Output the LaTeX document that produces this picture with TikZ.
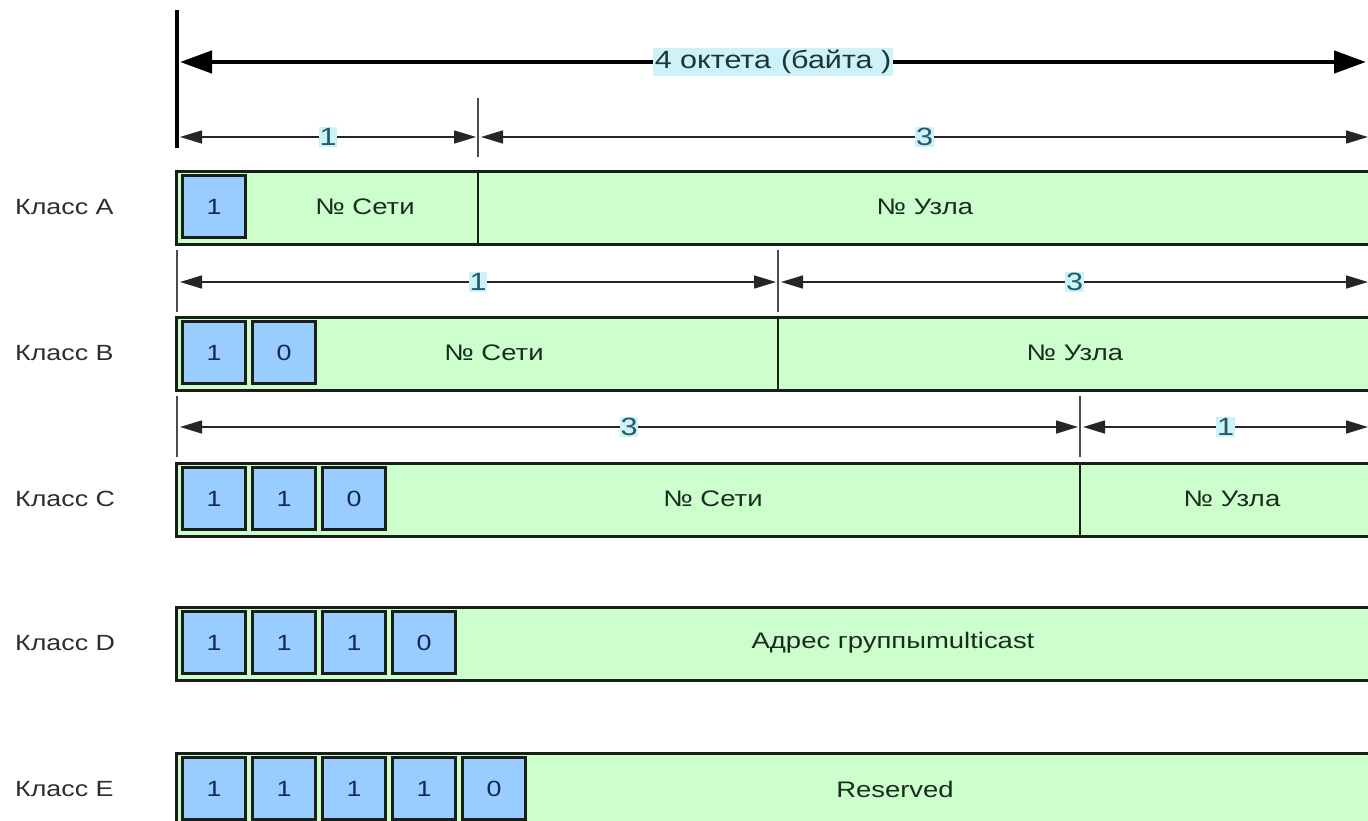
\documentclass[tikz,border=0pt]{standalone}
\usepackage{fontspec}
\setmainfont{Liberation Sans}[FakeStretch=1.22]
\usetikzlibrary{arrows.meta}
\definecolor{rowgreen}{RGB}{204,255,204}
\definecolor{bitblue}{RGB}{153,204,255}
\definecolor{lblbg}{RGB}{205,242,248}
\definecolor{numtxt}{RGB}{35,90,105}
\definecolor{bittxt}{RGB}{20,40,85}
\definecolor{fieldtxt}{RGB}{25,45,30}
\definecolor{clstxt}{RGB}{45,45,45}
\definecolor{edgecol}{RGB}{25,30,25}
\definecolor{bigtxt}{RGB}{25,55,55}
\begin{document}
\begin{tikzpicture}[x=1pt,y=-1pt,
 rowbox/.style={draw=edgecol, line width=3pt, fill=rowgreen, minimum width=1200pt, minimum height=73pt, anchor=north west, inner sep=0pt},
 bitbox/.style={draw=edgecol, line width=2.6pt, fill=bitblue, minimum width=63pt, minimum height=62pt, inner sep=0pt, text=bittxt, font=\fontsize{22pt}{26pt}\selectfont},
 field/.style={text=fieldtxt, font=\fontsize{22.5pt}{27pt}\selectfont, inner sep=0pt},
 cls/.style={text=clstxt, font=\fontsize{22pt}{26pt}\selectfont, anchor=west, inner sep=0pt},
 divider/.style={draw=edgecol, line width=2.2pt},
 tickline/.style={draw=black!70, line width=1.4pt},
 dimline/.style={line width=1.6pt, draw=black!85, {Triangle[length=22pt,width=13pt]}-{Triangle[length=22pt,width=13pt]}},
 dimlbl/.style={fill=lblbg, text=numtxt, inner sep=1pt, font=\fontsize{25pt}{28pt}\selectfont},
 bigline/.style={line width=4.5pt, draw=black, {Triangle[length=32pt,width=22pt]}-{Triangle[length=32pt,width=22pt]}},
 biglbl/.style={fill=lblbg, text=bigtxt, inner sep=2pt, font=\fontsize{25pt}{29pt}\selectfont},
]
\useasboundingbox (0,0) rectangle (1368,821);

% ---- rows
\node[rowbox] (rA) at (175,170) {};
\node[rowbox] (rB) at (175,316) {};
\node[rowbox] (rC) at (175,462) {};
\node[rowbox] (rD) at (175,606) {};
\node[rowbox] (rE) at (175,752) {};

% dividers
\draw[divider] (478,170) -- (478,243);
\draw[divider] (778,316) -- (778,389);
\draw[divider] (1080,462) -- (1080,535);

% ---- bit boxes
\node[bitbox] (a1) at (214,206.5) {1};
\node[bitbox] (b1) at (214,352.5) {1};
\node[bitbox] (b2) at (284,352.5) {0};
\node[bitbox] (c1) at (214,498.5) {1};
\node[bitbox] (c2) at (284,498.5) {1};
\node[bitbox] (c3) at (354,498.5) {0};
\node[bitbox] (d1) at (214,642.5) {1};
\node[bitbox] (d2) at (284,642.5) {1};
\node[bitbox] (d3) at (354,642.5) {1};
\node[bitbox] (d4) at (424,642.5) {0};
\node[bitbox] (e1) at (214,788.5) {1};
\node[bitbox] (e2) at (284,788.5) {1};
\node[bitbox] (e3) at (354,788.5) {1};
\node[bitbox] (e4) at (424,788.5) {1};
\node[bitbox] (e5) at (494,788.5) {0};

% ---- field texts
\node[field] (fa1) at (365,207) {№ Сети};
\node[field] (fa2) at (925,207) {№ Узла};
\node[field] (fb1) at (494,353) {№ Сети};
\node[field] (fb2) at (1075,353) {№ Узла};
\node[field] (fc1) at (713,499) {№ Сети};
\node[field] (fc2) at (1232,499) {№ Узла};
\node[field] (fd1) at (893,643) {Адрес группыmulticast};
\node[field] (fe1) at (895,789) {Reserved};

% ---- class labels
\node[cls] (lA) at (15,207) {Класс A};
\node[cls] (lB) at (15,353) {Класс B};
\node[cls] (lC) at (15,499) {Класс C};
\node[cls] (lD) at (15,643) {Класс D};
\node[cls] (lE) at (15,789) {Класс E};

% ---- top dimension
\coordinate (bartop) at (177,10);
\coordinate (barbot) at (177,148);
\draw[line width=4.5pt] (bartop) -- (barbot);
\coordinate (t0) at (180,62);
\coordinate (t1) at (1366,62);
\draw[bigline] (t0) -- node[biglbl] {4 октета\hspace{0.4em}(байта )} (t1);

% ---- row A dimensions
\coordinate (atk0) at (478,98);
\coordinate (atk1) at (478,157);
\draw[tickline] (atk0) -- (atk1);
\coordinate (a0) at (180,137);
\coordinate (am) at (476,137);
\coordinate (an) at (481,137);
\coordinate (a3) at (1368,137);
\draw[dimline] (a0) -- node[dimlbl] {1} (am);
\draw[dimline] (an) -- node[dimlbl] {3} (a3);

% ---- row B dimensions
\coordinate (btk0) at (177,250);
\coordinate (btk1) at (177,312);
\coordinate (btk2) at (778,250);
\coordinate (btk3) at (778,312);
\draw[tickline] (btk0) -- (btk1);
\draw[tickline] (btk2) -- (btk3);
\coordinate (b0) at (180,282);
\coordinate (bm) at (776,282);
\coordinate (bn) at (781,282);
\coordinate (b3) at (1368,282);
\draw[dimline] (b0) -- node[dimlbl] {1} (bm);
\draw[dimline] (bn) -- node[dimlbl] {3} (b3);

% ---- row C dimensions
\coordinate (ctk0) at (177,396);
\coordinate (ctk1) at (177,457);
\coordinate (ctk2) at (1080,396);
\coordinate (ctk3) at (1080,457);
\draw[tickline] (ctk0) -- (ctk1);
\draw[tickline] (ctk2) -- (ctk3);
\coordinate (c0) at (180,427);
\coordinate (cm) at (1078,427);
\coordinate (cn) at (1083,427);
\coordinate (c3) at (1368,427);
\draw[dimline] (c0) -- node[dimlbl] {3} (cm);
\draw[dimline] (cn) -- node[dimlbl] {1} (c3);
\end{tikzpicture}
\end{document}
